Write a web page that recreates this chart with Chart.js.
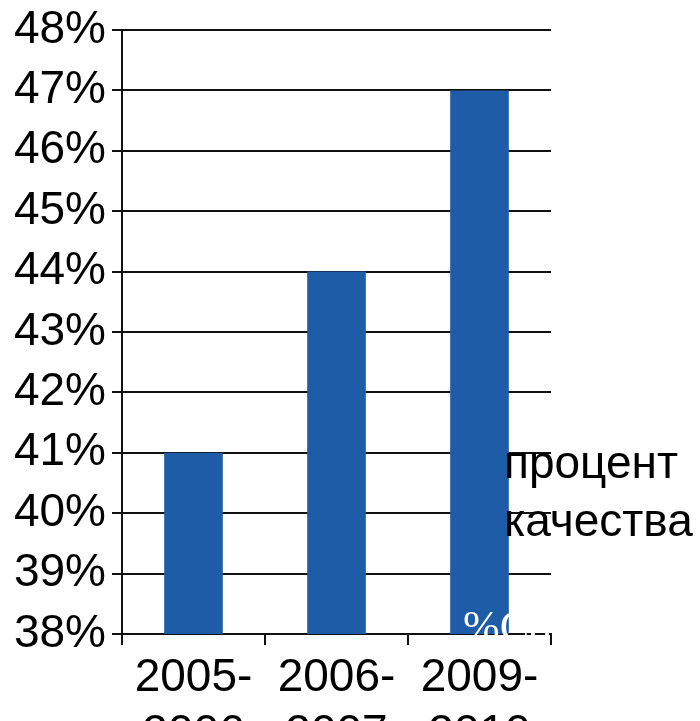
<!DOCTYPE html>
<html>
<head>
<meta charset="utf-8">
<script src="https://cdn.jsdelivr.net/npm/chart.js@4/dist/chart.umd.min.js"></script>
<style>
  html, body { margin: 0; padding: 0; background: #fff; }
  #wrap { width: 700px; height: 721px; }
</style>
</head>
<body>
<div id="wrap"><canvas id="chart" width="700" height="721"></canvas></div>
<script>
// данные
const categories = [["2005-", "2006"], ["2006-", "2007"], ["2009-", "2010"]];
const seriesName = ["процент", "качества"];
const values = [41, 44, 47];
const yMin = 38, yMax = 48;

const FONT = "'Liberation Sans', Arial, sans-serif";

// подпись легенды + белый артефакт внизу справа
const overlay = {
  id: "overlay",
  afterDraw(chart) {
    const c = chart.ctx, a = chart.chartArea;
    c.save();
    c.fillStyle = "#000";
    c.font = "46px " + FONT;
    c.textBaseline = "alphabetic";
    c.textAlign = "left";
    c.fillText(seriesName[0], a.right - 47, 478);
    c.fillText(seriesName[1], a.right - 47, 536);
    c.fillStyle = "#fff";
    c.font = "44px 'Liberation Serif', serif";
    c.fillText("%Со", a.right - 88, a.bottom + 7);
    c.restore();
  }
};

new Chart(document.getElementById("chart"), {
  type: "bar",
  data: {
    labels: categories,
    datasets: [{
      label: seriesName.join(" "),
      data: values,
      backgroundColor: "#1f5ca7",
      borderWidth: 0,
      categoryPercentage: 1,
      barPercentage: 0.41
    }]
  },
  options: {
    responsive: false,
    animation: false,
    layout: { padding: { top: 30, right: 149, left: 0, bottom: 0 } },
    plugins: { legend: { display: false }, tooltip: { enabled: false } },
    scales: {
      x: {
        grid: { drawOnChartArea: false, color: "#111", lineWidth: 2, tickLength: 11 },
        border: { color: "#111", width: 2 },
        ticks: { color: "#000", font: { family: FONT, size: 46, lineHeight: 1.22 }, padding: 5, maxRotation: 0, autoSkip: false },
        afterFit(s) { s.height = 87; }
      },
      y: {
        min: yMin, max: yMax,
        grid: { color: "#111", lineWidth: 2, tickLength: 10 },
        border: { color: "#111", width: 2 },
        ticks: {
          stepSize: 1, color: "#000", padding: 6,
          font: { family: FONT, size: 46 },
          callback: v => v + "%"
        },
        afterFit(s) { s.width = 122; s.paddingTop = 0; s.paddingBottom = 0; }
      }
    }
  },
  plugins: [overlay]
});
</script>
</body>
</html>
